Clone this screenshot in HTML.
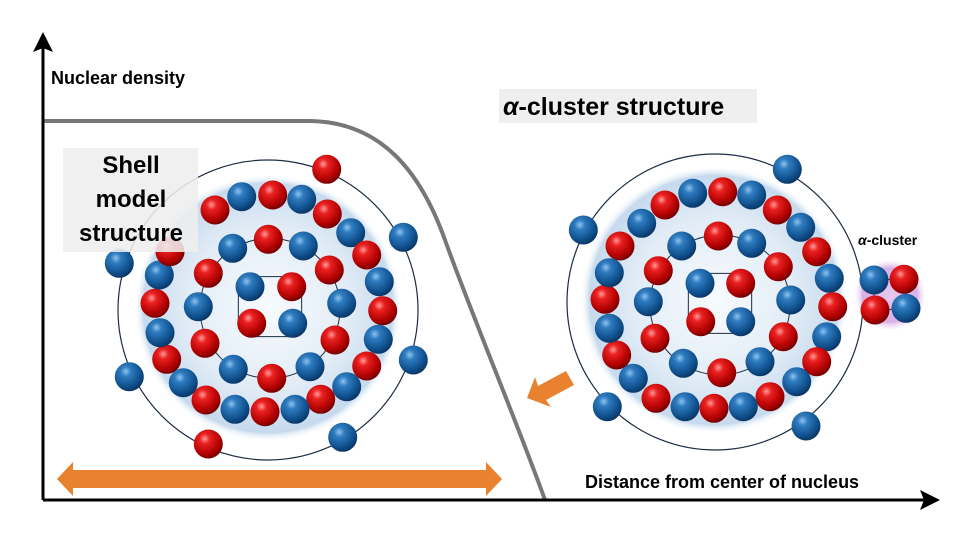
<!DOCTYPE html>
<html><head><meta charset="utf-8"><style>
html,body{margin:0;padding:0;background:#fff;}
svg{display:block;font-family:"Liberation Sans",Arial,sans-serif;}
</style></head><body>
<svg id="s" width="956" height="542" viewBox="0 0 956 542" xmlns="http://www.w3.org/2000/svg">
<defs>
<radialGradient id="gb" cx="0.38" cy="0.32" r="0.7">
<stop offset="0" stop-color="#8fc3ee"/><stop offset="0.25" stop-color="#2f7cc0"/><stop offset="0.75" stop-color="#0f4f8c"/><stop offset="1" stop-color="#0a3563"/></radialGradient>
<radialGradient id="gr" cx="0.38" cy="0.32" r="0.7">
<stop offset="0" stop-color="#ff9a9a"/><stop offset="0.25" stop-color="#ea2020"/><stop offset="0.75" stop-color="#b00000"/><stop offset="1" stop-color="#700000"/></radialGradient>
<radialGradient id="gd" cx="0.5" cy="0.5" r="0.5">
<stop offset="0" stop-color="#f7fbfe"/><stop offset="0.6" stop-color="#e2ecf6"/><stop offset="0.93" stop-color="#c6daee"/><stop offset="1" stop-color="#ffffff" stop-opacity="0"/></radialGradient>
<radialGradient id="gp" cx="0.5" cy="0.5" r="0.5">
<stop offset="0" stop-color="#e6c9ee"/><stop offset="0.75" stop-color="#d9b0e6"/><stop offset="1" stop-color="#f5e6f8" stop-opacity="0"/></radialGradient>
</defs>
<circle cx="268" cy="310" r="150" fill="none" stroke="#1c2c44" stroke-width="1.2"/>
<circle cx="268" cy="308" r="134" fill="url(#gd)"/>
<circle cx="715" cy="302" r="148" fill="none" stroke="#1c2c44" stroke-width="1.2"/>
<circle cx="714" cy="300" r="134" fill="url(#gd)"/>
<circle cx="890" cy="295" r="36" fill="url(#gp)"/>
<g id="balls"></g>
<path d="M43 121 L310 121 C380 122 420 170 445 240 C470 310 520 430 545 500" fill="none" stroke="#777" stroke-width="4"/>
<line x1="43" y1="500" x2="43" y2="48" stroke="#000" stroke-width="3"/>
<polygon points="43,32 33,52 43,48 53,52" fill="#000"/>
<line x1="43" y1="500" x2="925" y2="500" stroke="#000" stroke-width="3"/>
<polygon points="940,500 920,490 924,500 920,510" fill="#000"/>
<polygon points="57,479 73,462 73,470 486,470 486,462 502,479 486,496 486,488 73,488 73,496" fill="#e8822e"/>
<polygon points="527,398 535,377 538,386 566,371 574,385 546,400 551,407" fill="#e8822e"/>
<text x="51" y="84" font-size="18" font-weight="bold">Nuclear density</text>
<rect x="499" y="89" width="258" height="34" fill="#efefef"/>
<text x="503" y="115" font-size="25" font-weight="bold"><tspan font-style="italic">α</tspan>-cluster structure</text>
<rect x="63" y="148" width="135" height="104" fill="#eeeeee" fill-opacity="0.88"/>
<text font-size="24" font-weight="bold" text-anchor="middle"><tspan x="131" y="173">Shell</tspan><tspan x="131" y="207">model</tspan><tspan x="131" y="241">structure</tspan></text>
<text x="858" y="245" font-size="14" font-weight="bold"><tspan font-style="italic">α</tspan>-cluster</text>
<text x="585" y="488" font-size="18" font-weight="bold">Distance from center of nucleus</text>
</svg>
<script>
var L=[[680,88,'r'],[910,292,'b'],[940,660,'b'],[728,892,'b'],[325,912,'r'],[88,710,'b'],[58,370,'b'],
[345,210,'r'],[425,170,'b'],[518,165,'r'],[605,178,'b'],[682,222,'r'],[752,278,'b'],[800,345,'r'],[838,425,'b'],[848,512,'r'],[835,598,'b'],[800,678,'r'],[740,740,'b'],[662,778,'r'],[585,808,'b'],[495,815,'r'],[405,808,'b'],[318,780,'r'],[250,728,'b'],[200,658,'r'],[180,578,'b'],[165,490,'r'],[178,405,'b'],[210,335,'r'],
[505,298,'r'],[610,318,'b'],[688,390,'r'],[725,490,'b'],[705,600,'r'],[630,680,'b'],[515,715,'r'],[400,688,'b'],[315,610,'r'],[295,500,'b'],[325,400,'r'],[398,325,'b'],
[450,440,'b'],[575,440,'r'],[455,550,'r'],[578,550,'b']];
var R=[[712,88,'b'],[100,270,'b'],[172,800,'b'],[768,858,'b'],
[345,195,'r'],[428,160,'b'],[518,155,'r'],[605,165,'b'],[682,210,'r'],[752,262,'b'],[800,335,'r'],[838,415,'b'],[848,500,'r'],[830,590,'b'],[800,665,'r'],[740,725,'b'],[660,770,'r'],[580,800,'b'],[492,805,'r'],[405,800,'b'],[318,775,'r'],[250,715,'b'],[200,645,'r'],[178,565,'b'],[165,478,'r'],[178,398,'b'],[210,318,'r'],[275,250,'b'],
[505,288,'r'],[605,310,'b'],[685,380,'r'],[722,480,'b'],[700,590,'r'],[630,665,'b'],[515,698,'r'],[400,670,'b'],[315,595,'r'],[295,485,'b'],[325,392,'r'],[395,318,'b'],
[450,430,'b'],[572,430,'r'],[452,545,'r'],[572,545,'b'],
[972,420,'b'],[1062,418,'r'],[975,510,'r'],[1068,505,'b']];
var g=document.getElementById('balls'),h='';
h+='<rect x="'+(100+415/3)+'" y="'+(140+410/3)+'" width="'+(190/3)+'" height="'+(180/3)+'" rx="12" fill="none" stroke="#1c2c44" stroke-width="1"/>';
h+='<circle cx="'+(100+510/3)+'" cy="'+(140+505/3)+'" r="70" fill="none" stroke="#1c2c44" stroke-width="1"/>';
h+='<rect x="'+(550+415/3)+'" y="'+(140+400/3)+'" width="'+(190/3)+'" height="'+(180/3)+'" rx="12" fill="none" stroke="#1c2c44" stroke-width="1"/>';
h+='<circle cx="'+(550+510/3)+'" cy="'+(140+495/3)+'" r="70" fill="none" stroke="#1c2c44" stroke-width="1"/>';
h+='<rect x="'+(550+972/3)+'" y="'+(140+418/3)+'" width="'+(95/3)+'" height="'+(90/3)+'" fill="none" stroke="#1c2c44" stroke-width="1"/>';
function add(a,ox,oy){a.forEach(function(p){h+='<circle cx="'+(ox+p[0]/3).toFixed(1)+'" cy="'+(oy+p[1]/3).toFixed(1)+'" r="14.5" fill="url(#g'+p[2]+')"/>';});}
add(L,100,140);add(R,550,140);
g.innerHTML=h;
</script>
</body></html>
